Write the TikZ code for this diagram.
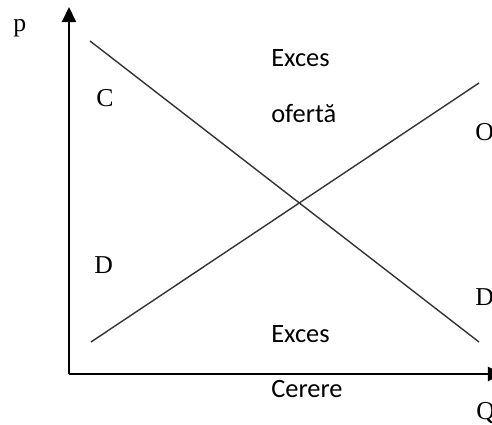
\documentclass[tikz,border=0pt]{standalone}
\usepackage{fontspec}
\setmainfont{Liberation Serif}
\newfontfamily\calib{Carlito}
\usetikzlibrary{arrows.meta,positioning}

\begin{document}
\begin{tikzpicture}[
    x=0.025cm, y=-0.025cm,
    ax/.style={line width=1.4pt, -{Triangle[length=10.7pt, width=10pt]}},
    crv/.style={line width=1pt, draw=black!80},
    let/.style={anchor=base west, inner sep=0pt, font=\fontsize{18.3}{22}\selectfont},
    txt/.style={anchor=base west, inner sep=0pt, font=\calib\fontsize{18.8}{22}\selectfont}
]
\useasboundingbox (0,0) rectangle (492,425);

% axes
\coordinate (orig) at (69,374);
\coordinate (ytip) at (69,7);
\coordinate (xtip) at (503,374);
\draw[ax] (orig) -- (ytip);
\draw[ax] (orig) -- (xtip);

% curves
\coordinate (c0) at (90,41);
\coordinate (c1) at (479,342);
\coordinate (o0) at (91,342);
\coordinate (o1) at (479,83);
\draw[crv] (c0) -- (c1);
\draw[crv] (o0) -- (o1);

% letters
\node[let] (lp) at (13,32) {p};
\node[let] (lc) at (96,107) {C};
\node[let] (ld) at (94,274) {D};
\node[let] (lo) at (475,141) {O};
\node[let] (ld2) at (475,306) {D};
\node[let] (lq) at (476,419) {Q};

% zones
\node[txt] (ex1) at (271,67) {Exces};
\node[txt] (of) at (271,123) {ofertă};
\node[txt] (ex2) at (271,342) {Exces};
\node[txt] (cer) at (271,397) {Cerere};
\end{tikzpicture}
\end{document}
